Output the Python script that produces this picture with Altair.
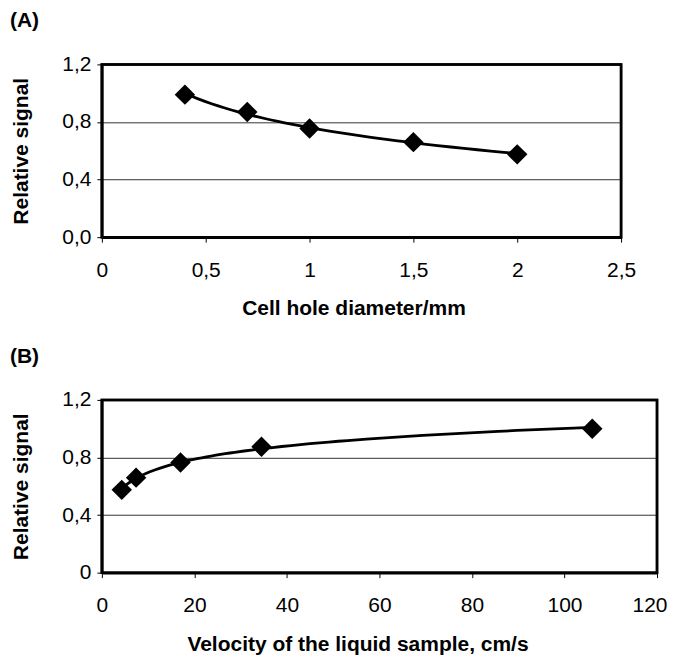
import altair as alt
import pandas as pd

# Panel A data
diameter = [0.4, 0.7, 1.0, 1.5, 2.0]
signal_a = [0.99, 0.87, 0.755, 0.66, 0.575]
# Panel B data
velocity = [4.3, 7.4, 17, 34.5, 106]
signal_b = [0.575, 0.66, 0.765, 0.875, 1.0]

x_ticks_a = [0, 0.5, 1, 1.5, 2, 2.5]
x_ticks_b = [0, 20, 40, 60, 80, 100, 120]
y_ticks = [0, 0.4, 0.8, 1.2]

df_a = pd.DataFrame({"x": diameter, "y": signal_a})
df_b = pd.DataFrame({"x": velocity, "y": signal_b})

FONT = "Liberation Sans"
H = 173


def panel(df, xdom, xticks, xtitle, xlabel_expr, ylabel_expr, width, label,
          title_x, last_tick, title_pad):
    x_axis = alt.Axis(values=xticks, title=xtitle, labelExpr=xlabel_expr, grid=False,
                      tickSize=5, labelPadding=17, titlePadding=title_pad, labelFontSize=21,
                      titleFontSize=21, titleFont=FONT, labelFont=FONT,
                      titleFontWeight="bold", domainColor="black", domainWidth=2.5,
                      tickColor="black", labelColor="black", titleColor="black",
                      labelFlush=False, titleX=title_x,
                      labelAlign=alt.condition(f"datum.value == {last_tick}",
                                               alt.value("right"), alt.value("center")),
                      labelOffset=alt.condition(f"datum.value == {last_tick}",
                                                alt.value(10), alt.value(0)))
    y_axis = alt.Axis(values=y_ticks, title="Relative signal", labelExpr=ylabel_expr,
                      grid=True, gridColor="#333333", gridWidth=1,
                      gridOpacity=alt.condition("datum.value > 0.1 && datum.value < 1.1",
                                                alt.value(1), alt.value(0)),
                      tickSize=5, labelPadding=6, labelFontSize=21, titleFontSize=21,
                      titleFont=FONT, labelFont=FONT, titleFontWeight="bold",
                      domainColor="black", domainWidth=2.5, tickColor="black",
                      labelColor="black", titleColor="black", titleX=-80,
                      titleBaseline="middle", labelFlush=False,
                      minExtent=60, maxExtent=60)
    xs = alt.Scale(domain=xdom, nice=False, zero=False)
    ys = alt.Scale(domain=[0, 1.2], nice=False)
    base = alt.Chart(df)
    line = base.transform_regression("x", "y", method="log").mark_line(
        color="black", strokeWidth=2.8
    ).encode(x=alt.X("x:Q", scale=xs, axis=x_axis), y=alt.Y("y:Q", scale=ys, axis=y_axis))
    pts = base.mark_point(shape="diamond", filled=True, color="black", size=420,
                          opacity=1).encode(
        x=alt.X("x:Q", scale=xs), y=alt.Y("y:Q", scale=ys))
    frame = alt.Chart(alt.Data(values=[{}])).mark_rect(
        filled=False, stroke="black", strokeWidth=2.5
    ).encode(x=alt.value(0), x2=alt.value(width), y=alt.value(0), y2=alt.value(H))
    return alt.layer(line, pts, frame).properties(
        width=width, height=H,
        title=alt.TitleParams(label, anchor="start", frame="group", dx=-92,
                              offset=22, fontSize=21, font=FONT,
                              fontWeight="bold", color="black"),
    )


chart_a = panel(df_a, [0, 2.5], x_ticks_a, "Cell hole diameter/mm",
                "replace(format(datum.value, '~g'), '.', ',')",
                "replace(format(datum.value, '.1f'), '.', ',')", 520, "(A)", 252, 99, 17)
chart_b = panel(df_b, [0, 120], x_ticks_b, "Velocity of the liquid sample, cm/s",
                "format(datum.value, 'd')",
                "datum.value == 0 ? '0' : replace(format(datum.value, '.1f'), '.', ',')",
                556, "(B)", 256, 120, 18)

chart = alt.vconcat(chart_a, chart_b, spacing=24).configure(
    background="white",
    padding={"left": 0, "top": 0, "right": 0, "bottom": 0},
    view=alt.ViewConfig(stroke="black", strokeWidth=2.5),
)

chart.save("out.html", embed_options={"renderer": "svg", "actions": False})
